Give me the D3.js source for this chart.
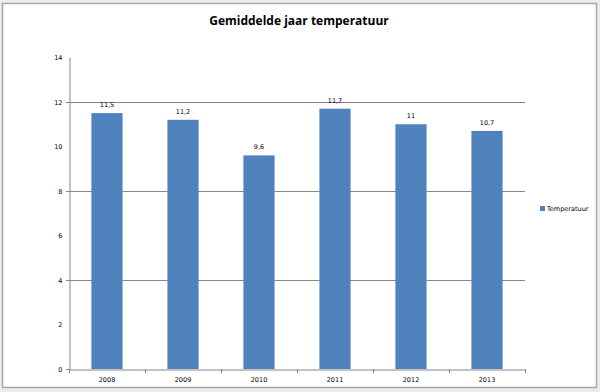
<!DOCTYPE html>
<html><head><meta charset="utf-8">
<script src="https://cdn.jsdelivr.net/npm/d3@7"></script>
<style>html,body{margin:0;padding:0;background:#fff;}svg{display:block;}</style>
</head><body>
<svg id="c" width="600" height="392"></svg>
<script>
const categories = ["2008","2009","2010","2011","2012","2013"];
const values = [11.5, 11.2, 9.6, 11.7, 11, 10.7];
const valueLabels = ["11,5","11,2","9,6","11,7","11","10,7"];
const yTicks = [0,2,4,6,8,10,12,14];
const gridTicks = [4,8,12];
const title = "Gemiddelde jaar temperatuur";
const seriesName = "Temperatuur";

(function(){
const svg = d3.select("#c");
const W=600,H=392;
svg.append("rect").attr("x",0).attr("y",0).attr("width",W).attr("height",H).attr("fill","#ececec");
svg.append("rect").attr("x",2.5).attr("y",3.5).attr("width",594).attr("height",384).attr("fill","#fff").attr("stroke","#a8a8a8").attr("stroke-width",1.5);

const pL=69,pR=525,pT=57.5,pB=369;
const x=d3.scaleBand().domain(categories).range([pL,pR]).paddingInner(0.59).paddingOuter(0.295);
const y=d3.scaleLinear().domain([0,14]).range([pB,pT]);

svg.append("text").attr("x",299).attr("y",25).attr("text-anchor","middle")
  .attr("font-family","'Open Sans', sans-serif").attr("font-weight","bold").attr("font-size",12)
  .attr("fill","#000").text(title);

svg.append("g").selectAll("line").data(gridTicks).join("line")
  .attr("x1",pL-3).attr("x2",pR).attr("y1",d=>Math.round(y(d))+0.5).attr("y2",d=>Math.round(y(d))+0.5)
  .attr("stroke","#868686").attr("stroke-width",1);

const ya=svg.append("g").attr("transform",`translate(${pL+0.5},0)`)
  .call(d3.axisLeft(y).tickValues(yTicks).tickSize(0).tickPadding(7).tickFormat(d3.format("d")));
ya.select(".domain").attr("stroke","#868686");
ya.selectAll("text").attr("font-family","'DejaVu Sans', sans-serif").attr("font-size",6.5).attr("fill","#000");
svg.append("line").attr("x1",pL-3).attr("x2",pL).attr("y1",pB+0.5).attr("y2",pB+0.5).attr("stroke","#868686");

svg.append("g").selectAll("rect").data(values).join("rect")
  .attr("x",(d,i)=>x(categories[i])).attr("width",x.bandwidth())
  .attr("y",d=>y(d)).attr("height",d=>pB-y(d)).attr("fill","#4F81BD");

const xa=svg.append("g").attr("transform",`translate(0,${pB+0.5})`)
  .call(d3.axisBottom(x).tickSize(0).tickPadding(8));
xa.select(".domain").attr("stroke","#868686");
xa.selectAll("text").attr("font-family","'DejaVu Sans', sans-serif").attr("font-size",6.5).attr("fill","#000");
const step=x.step();
svg.append("g").selectAll("line").data(d3.range(categories.length+1)).join("line")
  .attr("x1",d=>Math.round(pL+d*step)+0.5).attr("x2",d=>Math.round(pL+d*step)+0.5)
  .attr("y1",pB).attr("y2",pB+4).attr("stroke","#868686");

svg.append("g").selectAll("text").data(values).join("text")
  .attr("x",(d,i)=>x(categories[i])+x.bandwidth()/2).attr("y",d=>y(d)-6)
  .attr("text-anchor","middle").attr("font-family","'DejaVu Sans', sans-serif").attr("font-size",6.5)
  .attr("fill","#000").text((d,i)=>valueLabels[i]);

svg.append("rect").attr("x",540).attr("y",206).attr("width",5).attr("height",5).attr("fill","#4F81BD");
svg.append("text").attr("x",547).attr("y",211).attr("font-family","'DejaVu Sans', sans-serif").attr("font-size",6.5)
  .attr("fill","#000").text(seriesName);
})();
</script>
</body></html>
